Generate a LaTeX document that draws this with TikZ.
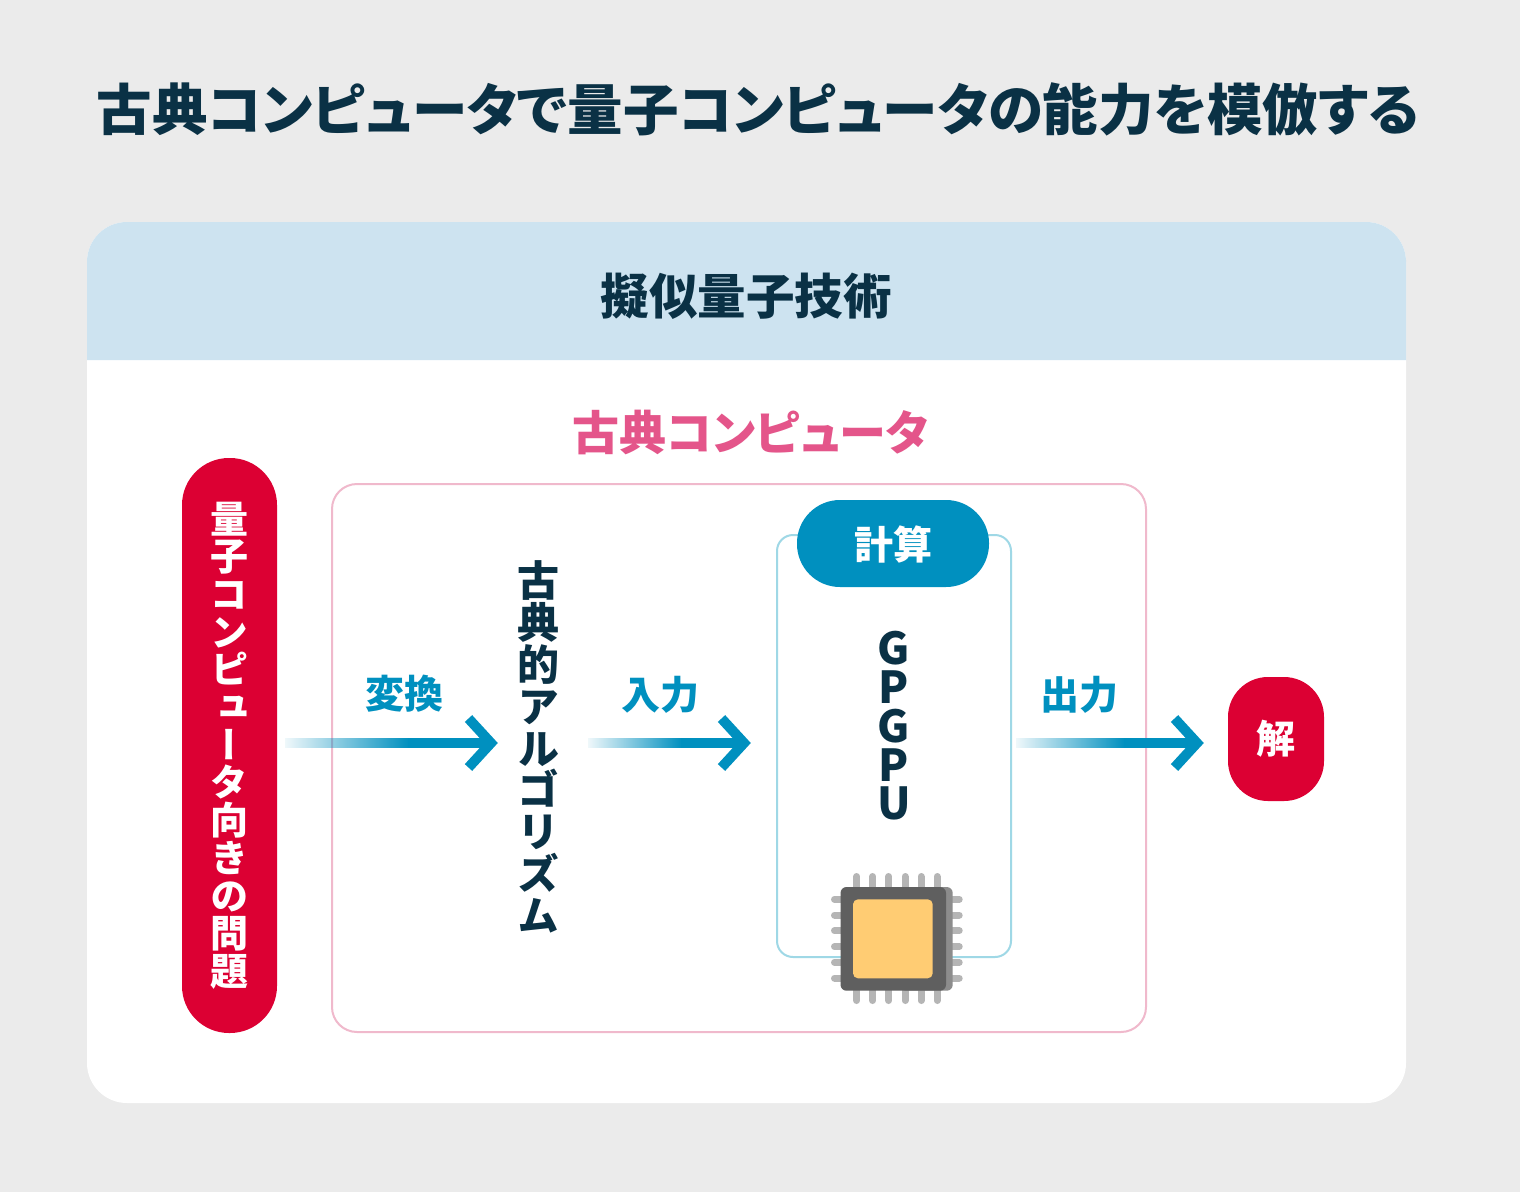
\documentclass[tikz,border=0pt]{standalone}
\usepackage{fontspec}
\usetikzlibrary{fadings,calc}
\setmainfont{Noto Sans CJK JP}
\newfontfamily\jph[RawFeature=+palt]{Noto Sans CJK JP}
\newfontfamily\jpv[RawFeature=+vert]{Noto Sans CJK JP}
\definecolor{bgc}{HTML}{EBEBEB}
\definecolor{navy}{HTML}{0A3145}
\definecolor{band}{HTML}{CDE3F0}
\definecolor{pinkt}{HTML}{E4558A}
\definecolor{pinkl}{HTML}{F0B9CC}
\definecolor{teal}{HTML}{0090BF}
\definecolor{teall}{HTML}{9FD8E6}
\definecolor{crim}{HTML}{DC0033}
\definecolor{chipd}{HTML}{5F5F5F}
\definecolor{chipm}{HTML}{8C8C8C}
\definecolor{pinc}{HTML}{B5B5B5}
\definecolor{gold}{HTML}{FFCC73}
\tikzfading[name=shaftfade,left color=transparent!94,right color=transparent!0]
\newcommand{\hfnt}[1]{\jph\bfseries\fontsize{#1}{#1}\selectfont}
\newcommand{\vfnt}[2]{\jpv\bfseries\fontsize{#1}{#2}\selectfont}
\newcommand{\gfnt}[2]{\jph\bfseries\fontsize{#1}{#2}\selectfont}
\tikzset{
  htext/.style={inner sep=0pt,anchor=center},
  vtext/.style={inner sep=0pt,anchor=center,align=center},
  pill/.style={fill=crim,rounded corners=#1,inner sep=0pt},
  steplabel/.style={htext,text=teal,font=\hfnt{39}},
  pin/.style={pinc,line width=7pt,line cap=round},
  chevron/.style={teal,line width=10pt,miter limit=10},
}
\newcommand{\flowarrow}[3]{% name, start x, tip x
  \coordinate (#1s) at (#2,743);
  \coordinate (#1t) at (#3-7,743);
  \coordinate (#1m) at ($(#1s)!.6!(#1t)$);
  \fill[teal,path fading=shaftfade] ($(#1s)+(0,-5)$) rectangle ($(#1m)+(0,5)$);
  \fill[teal] ($(#1m)+(-0.3,-5)$) rectangle ($(#1t)+(-6,5)$);
  \draw[chevron] ($(#1t)+(-22.5,-24.5)$) -- (#1t) -- ($(#1t)+(-22.5,24.5)$);
}
\begin{document}
\begin{tikzpicture}[x=1pt,y=-1pt]
\useasboundingbox (0,0) rectangle (1520,1192);
\fill[bgc] (0,0) rectangle (1520,1192);
\node[htext,text=navy,font=\hfnt{55.5}] (title) at (758,109) {古典コンピュータで量子コンピュータの能力を模倣する};
% panel
\fill[white,rounded corners=40pt] (87,222) rectangle (1406,1103);
\fill[band] (87,360) -- (87,300) [rounded corners=40pt] -- (87,222) -- (1406,222) -- (1406,300) [sharp corners] -- (1406,360) -- cycle;
\node[htext,text=navy,font=\hfnt{48.5}] (head) at (746,296) {擬似量子技術};
\node[htext,text=pinkt,font=\hfnt{47}] (classic) at (751,432) {古典コンピュータ};
\draw[pinkl,line width=2pt,rounded corners=25pt] (332,484) rectangle (1146,1032);
\node[pill=47pt,minimum width=95pt,minimum height=575pt] (prob) at (229.5,745.5) {};
\node[vtext,text=white,font=\vfnt{38}{37.7}] (probt) at (229.5,745.5) {量\\子\\コ\\ン\\ピ\\ュ\\ー\\タ\\向\\き\\の\\問\\題};
\node[vtext,text=navy,font=\vfnt{42}{41.8}] (algo) at (538,747) {古\\典\\的\\ア\\ル\\ゴ\\リ\\ズ\\ム};
% GPU box
\draw[teall,line width=2pt,rounded corners=16pt] (777,535) rectangle (1011,957);
\node[fill=teal,rounded corners=43pt,minimum width=192pt,minimum height=87pt,inner sep=0pt] (calc) at (893,543.5) {};
\node[htext,text=white,font=\hfnt{39}] (calct) at (893,544) {計算};
\node[vtext,text=navy,font=\gfnt{44}{38.7}] (gpgpu) at (894,726) {G\\P\\G\\P\\U};
% chip
\foreach \x in {856.7,872.7,888.7,905,921,937}{
  \draw[pin] (\x,876.5) -- (\x,895);
  \draw[pin] (\x,985) -- (\x,1000.5);
}
\foreach \y in {899.3,915,930.7,946.7,962.3,978}{
  \draw[pin] (834.5,\y) -- (845,\y);
  \draw[pin] (945,\y) -- (959.2,\y);
}
\fill[chipm,rounded corners=6pt] (900,887) rectangle (952.7,990.7);
\fill[chipd,rounded corners=6pt] (840.5,887) rectangle (946,990.7);
\fill[gold,rounded corners=5pt] (853,899.3) rectangle (932.7,978.3);
% red nodes
\node[pill=40pt,minimum width=96pt,minimum height=124pt] (ans) at (1276,739) {};
\node[htext,text=white,font=\hfnt{39}] (anst) at (1276,739) {解};
% arrows
\flowarrow{a}{285}{498}
\flowarrow{b}{588}{751}
\flowarrow{c}{1016}{1204}
\node[steplabel] (l1) at (404,694) {変換};
\node[steplabel] (l2) at (660,695) {入力};
\node[steplabel] (l3) at (1079,695) {出力};
\end{tikzpicture}
\end{document}
